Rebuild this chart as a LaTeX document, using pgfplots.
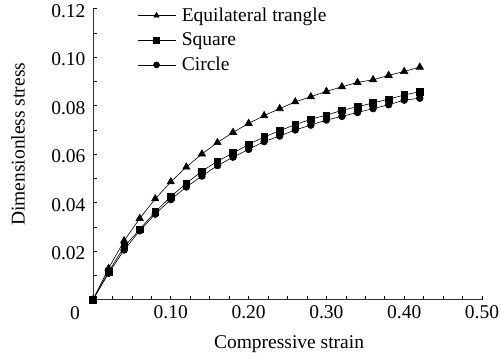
\documentclass[border=0pt]{standalone}
\usepackage{pgfplots}
\pgfplotsset{compat=1.18}
\usepackage{fontspec}
\setmainfont{Liberation Serif}
\begin{document}
\begin{tikzpicture}[font=\fontsize{19.5bp}{23bp}\selectfont]
\begin{axis}[
  name=main,
  scale only axis,
  width=389bp, height=291bp,
  xmin=0, xmax=0.5, ymin=0, ymax=0.12,
  axis x line=bottom, axis y line=left,
  axis line style={-, line width=0.7bp, black!80},
  xtick={0,0.1,0.2,0.3,0.4,0.5},
  xticklabels={,0.10,0.20,0.30,0.40,0.50},
  minor x tick num=3,
  ytick={0,0.02,0.04,0.06,0.08,0.10,0.12},
  yticklabels={,0.02,0.04,0.06,0.08,0.10,0.12},
  minor y tick num=1,
  tick align=inside,
  major tick length=4bp, minor tick length=4bp,
  tick style={line width=0.6bp, black},
  xticklabel style={yshift=-2bp},
  yticklabel style={yshift=-2bp, xshift=-4bp},
  xlabel={Compressive strain},
  ylabel={Dimensionless stress},
  xlabel style={at={(axis description cs:0.504,-0.152)}, anchor=center},
  ylabel style={at={(axis description cs:-0.193,0.534)}, anchor=center},
  clip=false,
  legend style={draw=none, fill=none, at={(axis cs:0.0566,0.1212)}, anchor=north west,
    inner sep=0pt, row sep=6bp, nodes={inner sep=2bp, anchor=west},
    font=\fontsize{19.5bp}{23bp}\selectfont,
    /tikz/every odd column/.append style={column sep=4bp}},
  legend cell align=left,
  legend image code/.code={\draw[mark repeat=2,mark phase=2,#1,mark size=3bp] plot coordinates {(0bp,0bp) (19bp,0bp) (38bp,0bp)};},
  every axis plot/.append style={line width=0.6bp, black},
]
\addplot[mark=triangle*, mark size=4.2bp, mark options={solid, fill=black}] coordinates {
(0,0) (0.02,0.0129) (0.04,0.0243) (0.06,0.0335) (0.08,0.0416) (0.10,0.0486)
(0.12,0.0547) (0.14,0.0601) (0.16,0.0648) (0.18,0.0690) (0.20,0.0727)
(0.22,0.0759) (0.24,0.0788) (0.26,0.0816) (0.28,0.0837) (0.30,0.0859)
(0.32,0.0878) (0.34,0.0896) (0.36,0.0907) (0.38,0.0925) (0.40,0.0941) (0.42,0.0959)};
\addlegendentry{Equilateral trangle}
\addplot[mark=square*, mark size=3.3bp, mark options={solid, fill=black}] coordinates {
(0,0) (0.02,0.0115) (0.04,0.0218) (0.06,0.0290) (0.08,0.0362) (0.10,0.0425)
(0.12,0.0480) (0.14,0.0530) (0.16,0.0571) (0.18,0.0605) (0.20,0.0640)
(0.22,0.0671) (0.24,0.0697) (0.26,0.0722) (0.28,0.0744) (0.30,0.0761)
(0.32,0.0781) (0.34,0.0796) (0.36,0.0811) (0.38,0.0827) (0.40,0.0844) (0.42,0.0858)};
\addlegendentry{Square}
\addplot[mark=*, mark size=3.4bp, mark options={solid, fill=black}] coordinates {
(0,0) (0.02,0.0109) (0.04,0.0205) (0.06,0.0284) (0.08,0.0353) (0.10,0.0413)
(0.12,0.0465) (0.14,0.0510) (0.16,0.0553) (0.18,0.0588) (0.20,0.0620)
(0.22,0.0652) (0.24,0.0675) (0.26,0.0700) (0.28,0.0720) (0.30,0.0741)
(0.32,0.0756) (0.34,0.0772) (0.36,0.0788) (0.38,0.0804) (0.40,0.0823) (0.42,0.0831)};
\addlegendentry{Circle}
\node[anchor=center] at ([xshift=-18bp,yshift=-13bp]rel axis cs:0,0) {0};
\end{axis}
\pgfresetboundingbox
\path (-93bp,-58.3bp) rectangle (408bp,299.7bp);
\end{tikzpicture}
\end{document}
